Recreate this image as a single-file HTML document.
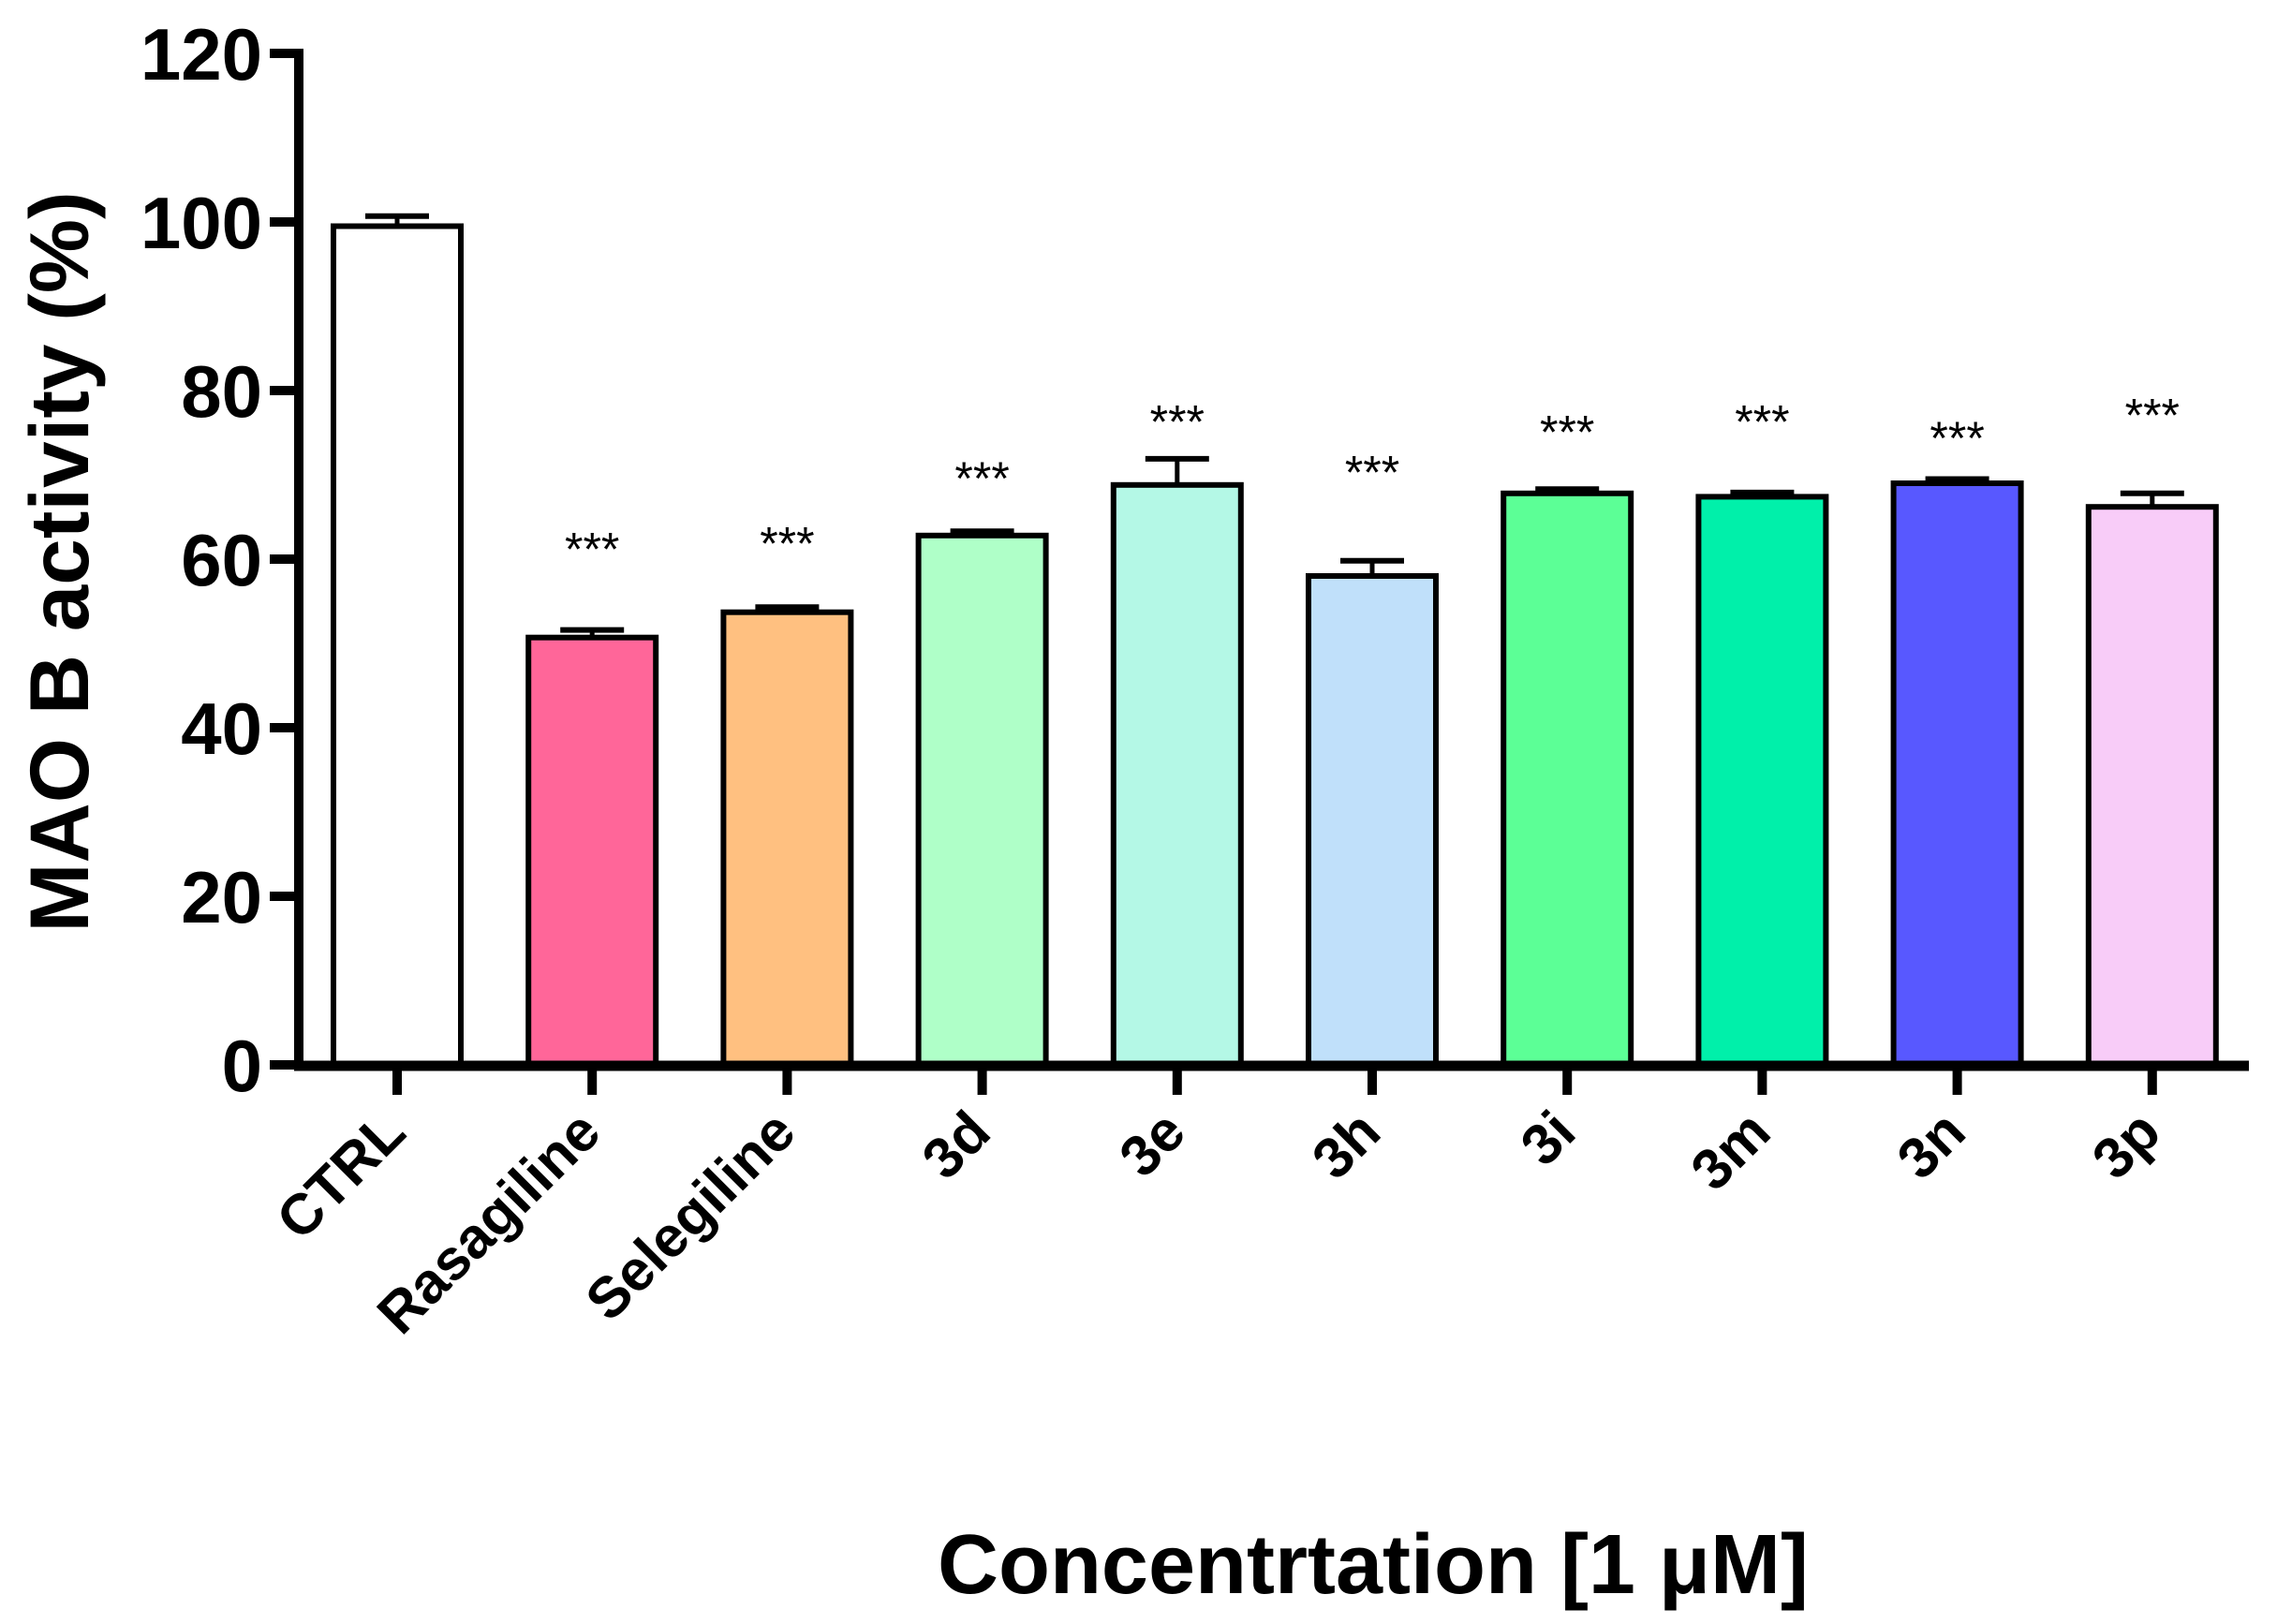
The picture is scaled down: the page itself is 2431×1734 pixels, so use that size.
<!DOCTYPE html>
<html><head><meta charset="utf-8"><style>
html,body{margin:0;padding:0;background:#fff;}
svg{display:block;font-family:"Liberation Sans",Arial,sans-serif;}
</style></head><body>
<svg id="chart" width="2431" height="1734" viewBox="0 0 2431 1734" xmlns="http://www.w3.org/2000/svg">
<g id="bars"></g>
<g id="axes"></g>
<text transform="translate(94,600) rotate(-90)" text-anchor="middle" font-size="89" font-weight="bold">MAO B activity (%)</text>
<text x="1466" y="1701" text-anchor="middle" font-size="90" font-weight="bold">Concentrtation [1 μM]</text>
</svg>
<script>
const categories = ["CTRL","Rasagiline","Selegiline","3d","3e","3h","3i","3m","3n","3p"];
const means = [99.5,50.7,53.7,62.8,68.8,58.0,67.8,67.4,69.0,66.2];
const errors = [1.2,0.9,0.6,0.5,3.1,1.8,0.5,0.5,0.5,1.6];
const stars = ["","***","***","***","***","***","***","***","***","***"];
const starLevels = [0,61.6,62.3,70.0,76.7,70.7,75.5,76.7,74.8,77.5];
const colors = ["#FFFFFF","#FF6699","#FFC080","#AFFFC8","#B4F8E6","#C0E0FA","#5CFF96","#00F0AA","#5858FF","#F8CCF8"];
const yTicks = [0,20,40,60,80,100,120];

const NS="http://www.w3.org/2000/svg";
const y0=1137, yPer=9;
function yScale(v){return y0 - v*yPer;}
function xScale(i){return 424 + i*208.2;}
const barW=136, capW=68;
function mk(tag,attrs,parent){const e=document.createElementNS(NS,tag);for(const k in attrs)e.setAttribute(k,attrs[k]);parent.appendChild(e);return e;}
const gB=document.getElementById('bars'), gA=document.getElementById('axes');

categories.forEach((c,i)=>{
  const cx=xScale(i), top=yScale(means[i]);
  const eb=mk('line',{x1:cx,x2:cx,y1:yScale(means[i]+errors[i]),y2:top,stroke:'#000','stroke-width':5},gB);
  
  
  const cap=mk('line',{x1:cx-capW/2,x2:cx+capW/2,y1:yScale(means[i]+errors[i]),y2:yScale(means[i]+errors[i]),stroke:'#000','stroke-width':6},gB);
  
  
  const r=mk('rect',{x:cx-barW/2,y:top,width:barW,height:y0-top,fill:colors[i],stroke:'#000','stroke-width':6},gB);
  
  
  if(stars[i]){
    const s=mk('text',{x:cx,y:yScale(starLevels[i])+21,'text-anchor':'middle','font-size':50},gB);
    s.textContent=stars[i];
    
    
  }
  const t=mk('line',{x1:cx,x2:cx,y1:y0,y2:1169,stroke:'#000','stroke-width':10},gA);
  
  
  const l=mk('text',{transform:`translate(${cx+12},1212) rotate(-45)`,'text-anchor':'end','font-size':61,'font-weight':'bold'},gA);
  l.textContent=c;
  
  
});
const ya=mk('line',{x1:319,x2:319,y1:52,y2:1142,stroke:'#000','stroke-width':10},gA);


const xa=mk('line',{x1:314,x2:2401,y1:y0+1,y2:y0+1,stroke:'#000','stroke-width':11},gA);


yTicks.forEach(v=>{
  const t=mk('line',{x1:288,x2:320,y1:yScale(v),y2:yScale(v),stroke:'#000','stroke-width':10},gA);
  
  
  const l=mk('text',{x:280,y:yScale(v)+28,'text-anchor':'end','font-size':78,'font-weight':'bold'},gA);
  l.textContent=v;
  
  
});
</script>
</body></html>
